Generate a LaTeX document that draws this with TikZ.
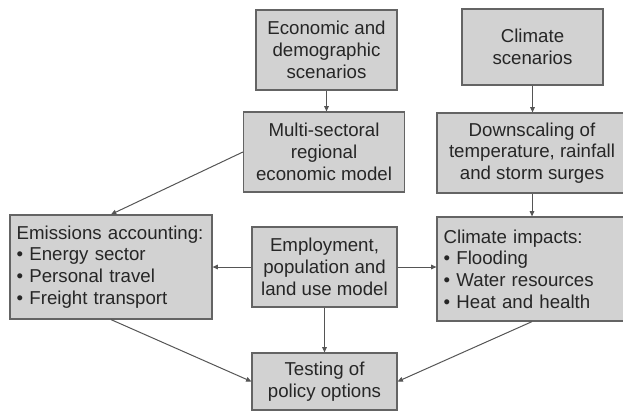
\documentclass[tikz,border=0pt]{standalone}
\usepackage{fontspec}
\setmainfont{Liberation Sans}
\usepackage{tikz}
\usetikzlibrary{arrows.meta}
\definecolor{boxfill}{RGB}{210,210,210}
\definecolor{boxline}{RGB}{100,100,100}
\definecolor{arrline}{RGB}{85,85,85}

\begin{document}
\begin{tikzpicture}[x=0.75pt,y=-0.75pt,
    box/.style={draw=boxline,fill=boxfill,line width=0.9pt,inner sep=0pt,
        align=center,font=\fontsize{14}{16.3}\selectfont,text=black!85},
    listbox/.style={box,align=left,inner xsep=5pt},
    flow/.style={draw=arrline,line width=0.75pt,-{Triangle[length=4pt,width=3.5pt]}}]
    \clip (0,0) rectangle (623,412);
    % top row
    \node[box,minimum width=105.75pt,minimum height=60pt] (econ) at (326.5,50) {Economic and\\demographic\\scenarios};
    \node[box,minimum width=105.75pt,minimum height=57pt] (clim) at (532.5,47) {Climate\\scenarios};
    % models
    \node[box,minimum width=120.75pt,minimum height=60pt] (multi) at (324,152) {Multi-sectoral\\regional\\economic model};
    \node[box,minimum width=142.5pt,minimum height=60pt] (down) at (532,153) {Downscaling of\\temperature, rainfall\\and storm surges};
    \node[listbox,text width=141.5pt,minimum height=78pt] (emis) at (111,267) {Emissions accounting:\\• Energy sector\\• Personal travel\\• Freight transport};
    \node[box,minimum width=108.75pt,minimum height=60pt] (empl) at (324.5,267) {Employment,\\population and\\land use model};
    \node[listbox,text width=132.5pt,minimum height=78pt] (imp) at (532,269) {Climate impacts:\\• Flooding\\• Water resources\\• Heat and health};
    \node[box,minimum width=108.75pt,minimum height=42.75pt] (test) at (324.5,381.5) {Testing of\\policy options};
    % connectors
    \draw[flow] (econ.south) -- (econ.south |- multi.north);
    \draw[flow] (clim.south) -- (clim.south |- down.north);
    \draw[flow] (down.south) -- (imp.north);
    \draw[flow] (multi.west) -- (emis.north);
    \draw[flow] (empl.west) -- (emis.east);
    \draw[flow] (empl.east) -- (empl.east -| imp.west);
    \draw[flow] (empl.south) -- (test.north);
    \draw[flow] (emis.south) -- (test.west);
    \draw[flow] (imp.south) -- (test.east);
\end{tikzpicture}
\end{document}
